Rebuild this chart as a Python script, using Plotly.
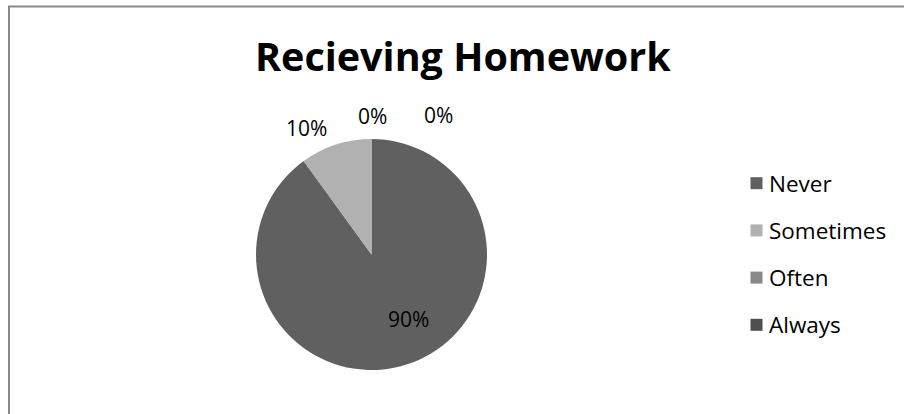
import plotly.graph_objects as go

# Survey responses: how often students receive homework
categories = ["Never", "Sometimes", "Often", "Always"]
values = [90, 10, 0, 0]
colors = ["#606060", "#b1b1b1", "#898989", "#4f4f4f"]

title_text = "Recieving Homework"

W, H = 904, 414
FONT = "Open Sans"

# pie geometry (pixels)
cx, cy, r = 371.5, 254.5, 115.5

# data label anchor points (pixels), one per category
label_pos = [(408, 318.5), (306.5, 128), (372.5, 116.5), (438, 115)]

total = sum(values)
pct_text = [f"{round(v * 100 / total)}%" for v in values]

fig = go.Figure(
    go.Pie(
        labels=categories,
        values=values,
        sort=False,
        direction="clockwise",
        rotation=0,
        marker=dict(colors=colors, line=dict(width=0)),
        textinfo="none",
        hoverinfo="label+percent",
        showlegend=False,
        domain=dict(
            x=[(cx - r) / W, (cx + r) / W],
            y=[(H - cy - r) / H, (H - cy + r) / H],
        ),
    )
)

annotations = []
for (lx, ly), t in zip(label_pos, pct_text):
    annotations.append(dict(
        x=lx / W, y=1 - ly / H, xref="paper", yref="paper",
        text=t, showarrow=False, xanchor="center", yanchor="middle",
        font=dict(family=FONT, size=21, color="#000000"),
    ))

shapes = []
# chart frame
shapes.append(dict(
    type="rect", xref="paper", yref="paper",
    x0=9 / W, x1=1.02, y0=-0.02, y1=1 - 6.5 / H,
    line=dict(color="#8a8a8a", width=2), fillcolor="rgba(0,0,0,0)",
))

# legend, drawn as swatches plus labels
leg_x, leg_y0, leg_step, sw = 756.5, 183.2, 47.2, 12
for i, (name, col) in enumerate(zip(categories, colors)):
    yc = leg_y0 + i * leg_step
    shapes.append(dict(
        type="rect", xref="paper", yref="paper",
        x0=(leg_x - sw / 2) / W, x1=(leg_x + sw / 2) / W,
        y0=1 - (yc + sw / 2) / H, y1=1 - (yc - sw / 2) / H,
        line=dict(width=0), fillcolor=col,
    ))
    annotations.append(dict(
        x=(leg_x + 10) / W, y=1 - yc / H, xref="paper", yref="paper",
        text=name, showarrow=False, xanchor="left", yanchor="middle",
        font=dict(family=FONT, size=22.5, color="#000000"),
    ))

annotations.append(dict(
    x=463 / W, y=1 - 55.5 / H, xref="paper", yref="paper",
    text=f"<b>{title_text}</b>", showarrow=False,
    xanchor="center", yanchor="middle",
    font=dict(family=FONT, size=39.5, color="#000000"),
))

fig.update_layout(
    width=W, height=H,
    margin=dict(l=0, r=0, t=0, b=0),
    paper_bgcolor="#ffffff", plot_bgcolor="#ffffff",
    annotations=annotations, shapes=shapes,
)

fig.write_html("out.html")
